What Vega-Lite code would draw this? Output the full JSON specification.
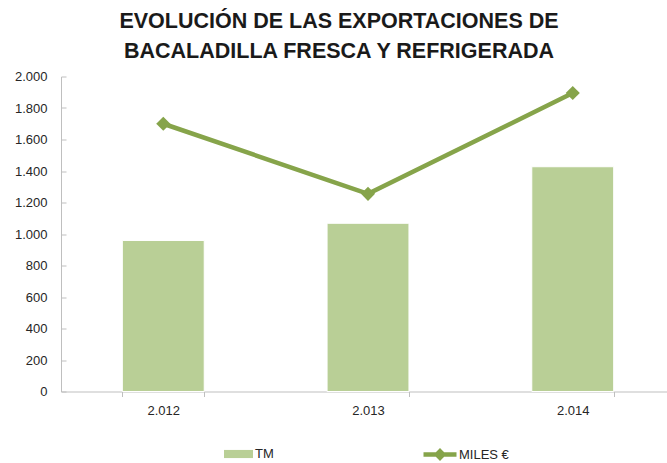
{
  "$schema": "https://vega.github.io/schema/vega-lite/v6.json",
  "width": 606,
  "height": 315,
  "autosize": "none",
  "padding": {"left": 61, "top": 76.5, "right": 0, "bottom": 71.5},
  "background": "white",
  "config": {
    "view": {"stroke": null},
    "locale": {"number": {"decimal": ",", "thousands": ".", "grouping": [3], "currency": ["", " €"]}},
    "font": "Liberation Sans",
    "axisY": {"labelOverlap": false, "tickCount": 11}
  },
  "title": {
    "text": ["EVOLUCIÓN DE LAS EXPORTACIONES DE", "BACALADILLA FRESCA Y REFRIGERADA"],
    "font": "Liberation Sans",
    "fontSize": 21.5,
    "fontWeight": "bold",
    "color": "#1a1a1a",
    "anchor": "middle",
    "dx": -25,
    "lineHeight": 30,
    "offset": 8
  },
  "data": {
    "values": [
      {"year": "2.012", "TM": 959, "MILES": 1700},
      {"year": "2.013", "TM": 1068, "MILES": 1255},
      {"year": "2.014", "TM": 1427, "MILES": 1895}
    ]
  },
  "encoding": {
    "x": {
      "field": "year",
      "type": "ordinal",
      "sort": null,
      "scale": {"paddingInner": 0.6, "paddingOuter": 0.28, "align": 0.535},
      "axis": {
        "title": null,
        "labelAngle": 0,
        "labelFontSize": 13,
        "labelColor": "#262626",
        "labelPadding": 8,
        "domainColor": "#BFBFBF",
        "tickColor": "#BFBFBF",
        "tickSize": 5,
        "tickBand": "extent"
      }
    }
  },
  "layer": [
    {
      "mark": {"type": "bar", "stroke": "white", "strokeWidth": 1},
      "encoding": {
        "y": {
          "field": "TM",
          "type": "quantitative",
          "scale": {"domain": [0, 2000], "nice": false},
          "axis": {
            "title": null,
            "values": [0, 200, 400, 600, 800, 1000, 1200, 1400, 1600, 1800, 2000],
            "format": ",d",
            "grid": false,
            "labelOverlap": false,
            "labelFontSize": 13,
            "labelColor": "#262626",
            "domainColor": "#BFBFBF",
            "tickColor": "#BFBFBF",
            "tickSize": -5,
            "labelPadding": 19
          }
        },
        "fill": {
          "datum": "TM",
          "type": "nominal",
          "scale": {"range": ["#B9CF96"]},
          "legend": {
            "orient": "none",
            "legendX": 163,
            "legendY": 363,
            "title": null,
            "padding": 0,
            "symbolType": "M-1,-0.28H1V0.28H-1Z",
            "symbolSize": 841,
            "symbolStrokeWidth": 0,
            "labelOffset": 2,
            "labelFontSize": 13,
            "labelColor": "#262626"
          }
        }
      }
    },
    {
      "mark": {"type": "line", "strokeWidth": 4.5},
      "encoding": {
        "y": {
          "field": "MILES",
          "type": "quantitative",
          "axis": {
            "title": null,
            "values": [0, 200, 400, 600, 800, 1000, 1200, 1400, 1600, 1800, 2000],
            "format": ",d",
            "grid": false,
            "labelOverlap": false,
            "labelFontSize": 13,
            "labelColor": "#262626",
            "domainColor": "#BFBFBF",
            "tickColor": "#BFBFBF",
            "tickSize": -5,
            "labelPadding": 19
          }
        },
        "stroke": {
          "datum": "MILES €",
          "type": "nominal",
          "scale": {"range": ["#86A44A"]},
          "legend": {
            "orient": "none",
            "legendX": 360,
            "legendY": 359,
            "title": null,
            "padding": 0,
            "symbolType": "M-1,0H-0.2L0,-0.2L0.2,0H1H0.2L0,0.2L-0.2,0Z",
            "symbolSize": 1089,
            "symbolStrokeWidth": 4.5,
            "symbolFillColor": "#86A44A",
            "symbolStrokeColor": "#86A44A",
            "labelOffset": 0,
            "labelFontSize": 13,
            "labelColor": "#262626"
          }
        }
      }
    },
    {
      "mark": {"type": "point", "shape": "diamond", "filled": true, "size": 200, "color": "#86A44A", "opacity": 1},
      "encoding": {
        "y": {
          "field": "MILES",
          "type": "quantitative",
          "axis": {
            "title": null,
            "values": [0, 200, 400, 600, 800, 1000, 1200, 1400, 1600, 1800, 2000],
            "format": ",d",
            "grid": false,
            "labelOverlap": false,
            "labelFontSize": 13,
            "labelColor": "#262626",
            "domainColor": "#BFBFBF",
            "tickColor": "#BFBFBF",
            "tickSize": -5,
            "labelPadding": 19
          }
        }
      }
    }
  ]
}
